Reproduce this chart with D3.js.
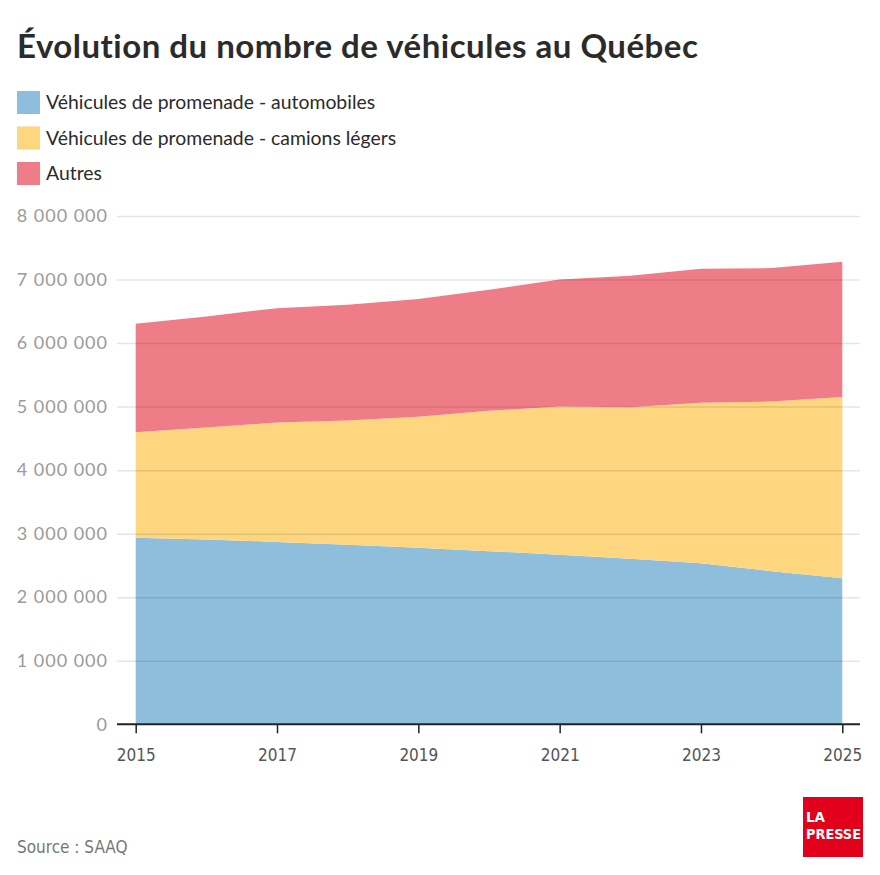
<!DOCTYPE html>
<html>
<head>
<meta charset="utf-8">
<script src="https://cdn.jsdelivr.net/npm/d3@7"></script>
<style>
  body { margin: 0; background: #fff; }
  svg { display: block; }
  .title { font-family: Lato, sans-serif; font-weight: 700; fill: #2b2b2b; }
  .legend text { font-family: Lato, sans-serif; fill: #2b2b2b; }
  .axis-y text { font-family: Lato, sans-serif; fill: #9a9a9a; letter-spacing: 1px; }
  .axis-x text { font-family: "DejaVu Sans Condensed", "Roboto", sans-serif; fill: #555; }
  .source { font-family: "DejaVu Sans Condensed", "Roboto", sans-serif; fill: #777; }
</style>
</head>
<body>
<script>
  "use strict";

  // values, in vehicles
  var years = [2015, 2016, 2017, 2018, 2019, 2020, 2021, 2022, 2023, 2024, 2025];
  var automobiles = [2937000, 2910000, 2870000, 2826000, 2780000, 2725000, 2670000, 2605000, 2535000, 2410000, 2300000];
  var camionsLegers = [1658000, 1760000, 1880000, 1954000, 2060000, 2210000, 2330000, 2385000, 2525000, 2670000, 2850000];
  var autres = [1710000, 1750000, 1800000, 1825000, 1855000, 1905000, 2000000, 2070000, 2110000, 2100000, 2130000];

  var seriesKeys = ["automobiles", "camionsLegers", "autres"];
  var seriesLabels = [
    "Véhicules de promenade - automobiles",
    "Véhicules de promenade - camions légers",
    "Autres"
  ];
  var seriesColors = ["#8fbedc", "#fed67f", "#ef7d88"];
  var yTicks = [0, 1000000, 2000000, 3000000, 4000000, 5000000, 6000000, 7000000, 8000000];
  var xTicks = [2015, 2017, 2019, 2021, 2023, 2025];

  var W = 880, H = 875;
  var margin = {top: 216, right: 20, bottom: 151, left: 117};

  var rows = years.map(function(yr, i) {
    return {year: yr, automobiles: automobiles[i], camionsLegers: camionsLegers[i], autres: autres[i]};
  });

  var svg = d3.select("body").append("svg")
      .attr("width", W)
      .attr("height", H);

  // Title
  svg.append("text")
      .attr("class", "title")
      .attr("x", 17)
      .attr("y", 58)
      .style("font-size", "33px")
      .style("letter-spacing", "0.5px")
      .text("Évolution du nombre de véhicules au Québec");

  // Legend
  var legend = svg.append("g").attr("class", "legend");
  seriesLabels.forEach(function(lbl, i) {
    var gy = 91 + i * 35.5;
    legend.append("rect")
        .attr("x", 17).attr("y", gy)
        .attr("width", 23).attr("height", 23)
        .attr("fill", seriesColors[i]);
    legend.append("text")
        .attr("x", 46).attr("y", gy + 18)
        .style("font-size", "19.4px")
        .text(lbl);
  });

  // scales
  var x = d3.scaleLinear()
      .domain([2015, 2025])
      .range([135.7, 842.3]);
  var y = d3.scaleLinear()
      .domain([0, 8000000])
      .range([H - margin.bottom + 0.3, margin.top]);

  var fmt = function(v) { return d3.format(",")(v).replace(/,/g, " "); };

  // stacked areas
  var stacked = d3.stack().keys(seriesKeys)(rows);
  var area = d3.area()
      .x(function(d) { return x(d.data.year); })
      .y0(function(d) { return y(d[0]); })
      .y1(function(d) { return y(d[1]); });

  svg.append("g").selectAll("path")
      .data(stacked)
      .enter().append("path")
      .attr("d", area)
      .attr("fill", function(d, i) { return seriesColors[i]; });

  // Y axis with gridlines over the areas
  var yAxis = svg.append("g")
      .attr("class", "axis axis-y")
      .attr("transform", "translate(" + margin.left + ",0)")
      .call(d3.axisLeft(y).tickValues(yTicks).tickFormat(fmt)
        .tickSize(-(W - margin.left - margin.right)).tickPadding(9));
  yAxis.select(".domain").remove();
  yAxis.selectAll(".tick line")
      .attr("stroke", "#000")
      .attr("stroke-opacity", function(d) { return d === 0 ? 0 : 0.1; })
      .attr("stroke-width", 1.5);
  yAxis.selectAll(".tick text").style("font-size", "18px");

  // X axis
  var xAxis = svg.append("g")
      .attr("class", "axis axis-x")
      .attr("transform", "translate(0," + y(0) + ")")
      .call(d3.axisBottom(x).tickValues(xTicks).tickFormat(d3.format("d"))
        .tickSize(9).tickPadding(16));
  xAxis.select(".domain").remove();
  xAxis.append("line")
      .attr("x1", margin.left).attr("x2", W - margin.right)
      .attr("stroke", "#222").attr("stroke-width", 2);
  xAxis.selectAll(".tick line").attr("stroke", "#222").attr("stroke-width", 1.5);
  xAxis.selectAll(".tick text").style("font-size", "17px");

  // Source
  svg.append("text")
      .attr("class", "source")
      .attr("x", 17)
      .attr("y", 853)
      .style("font-size", "17px")
      .text("Source : SAAQ");

  // Logo
  var logo = svg.append("g").attr("transform", "translate(803,797)");
  logo.append("rect")
      .attr("width", 60).attr("height", 60)
      .attr("fill", "#e2001a");
  logo.append("text")
      .attr("x", 3).attr("y", 25)
      .attr("fill", "#fff")
      .style("font-family", "'DejaVu Sans Condensed', sans-serif")
      .style("font-weight", "700")
      .style("font-size", "13.5px")
      .attr("textLength", 19)
      .attr("lengthAdjust", "spacingAndGlyphs")
      .text("LA");
  logo.append("text")
      .attr("x", 3).attr("y", 42)
      .attr("fill", "#fff")
      .style("font-family", "'DejaVu Sans Condensed', sans-serif")
      .style("font-weight", "700")
      .style("font-size", "13.5px")
      .attr("textLength", 55)
      .attr("lengthAdjust", "spacingAndGlyphs")
      .text("PRESSE");
</script>
</body>
</html>
